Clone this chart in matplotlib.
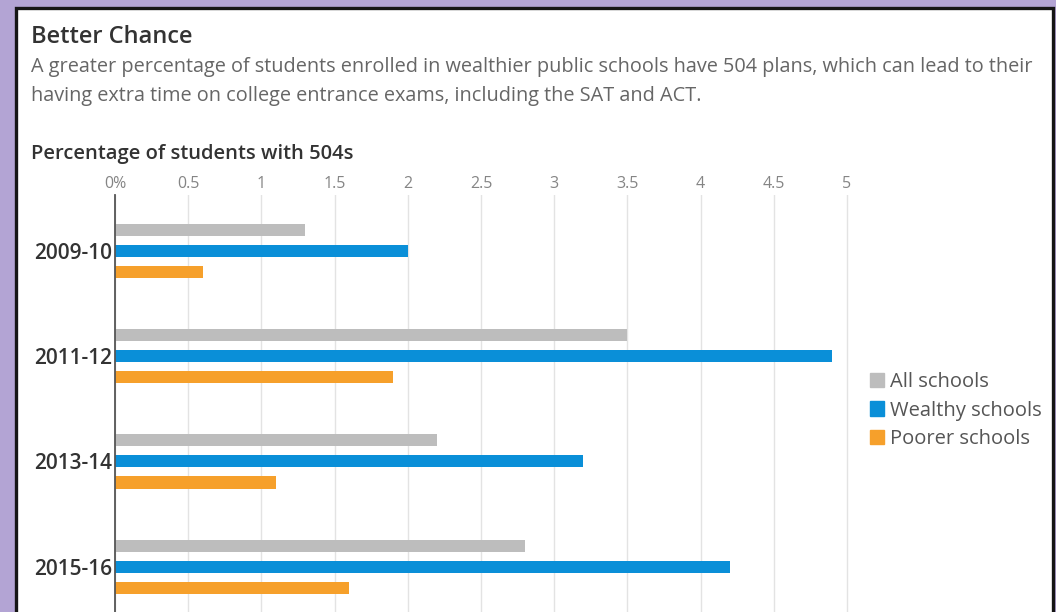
import matplotlib
matplotlib.use('Agg')
import numpy as np
import matplotlib.pyplot as plt
from matplotlib.patches import Rectangle, Patch

# percentage of students with 504 plans, by school year
years = ['2009-10', '2011-12', '2013-14', '2015-16']
all_schools = [1.3, 3.5, 2.2, 2.8]
wealthy = [2.0, 4.9, 3.2, 4.2]
poorer = [0.6, 1.9, 1.1, 1.6]
series_names = ['All schools', 'Wealthy schools', 'Poorer schools']
tick_vals = [0, 0.5, 1, 1.5, 2, 2.5, 3, 3.5, 4, 4.5, 5]
tick_labels = ['0%', '0.5', '1', '1.5', '2', '2.5', '3', '3.5', '4', '4.5', '5']

GRAY, BLUE, ORANGE = '#bdbdbd', '#0a8fd8', '#f6a02b'
FONT = 'Open Sans'

W, H = 1056, 612
fig = plt.figure(figsize=(W / 100, H / 100), dpi=100)
fig.patch.set_facecolor('#b3a4d4')

# white card with dark outline, cut off at the bottom
fig.add_artist(Rectangle((16 / W, -0.05), (1053 - 16) / W, 1 - 8 / H + 0.05,
                         transform=fig.transFigure, facecolor='white',
                         edgecolor='#151515', linewidth=2.4, zorder=0))

fig.text(31 / W, 1 - 37 / H, 'Better Chance', family=FONT, fontsize=17,
         fontweight='semibold', color='#333333', va='center', ha='left')
fig.text(31 / W, 1 - 67 / H,
         'A greater percentage of students enrolled in wealthier public schools have 504 plans, '
         'which can lead to their', family=FONT, fontsize=14.3, color='#666666',
         va='center', ha='left')
fig.text(31 / W, 1 - 96 / H,
         'having extra time on college entrance exams, including the SAT and ACT.',
         family=FONT, fontsize=14.3, color='#666666', va='center', ha='left')
fig.text(31 / W, 1 - 154 / H, 'Percentage of students with 504s', family=FONT,
         fontsize=14.5, fontweight='semibold', color='#333333', va='center', ha='left')

ax_l, ax_r, ax_t = 115, 850, 195
ax = fig.add_axes([ax_l / W, 0, (ax_r - ax_l) / W, (H - ax_t) / H])
ax.set_facecolor('none')

y = np.arange(len(years))
bh, off = 0.115, 0.2
ax.barh(y - off, all_schools, height=bh, color=GRAY, zorder=3)
ax.barh(y, wealthy, height=bh, color=BLUE, zorder=3)
ax.barh(y + off, poorer, height=bh, color=ORANGE, zorder=3)

ax.set_xlim(0, 5 * (ax_r - ax_l) / (847 - ax_l))
ax.set_ylim(3.43, -0.53)

ax.xaxis.tick_top()
ax.set_xticks(tick_vals)
ax.set_xticklabels(tick_labels, family=FONT, fontsize=11.5, color='#858585')
ax.tick_params(axis='x', length=0, pad=2)
ax.set_yticks(y)
ax.set_yticklabels(years, family=FONT, fontsize=15, fontweight='semibold', color='#333333')
ax.tick_params(axis='y', length=0, pad=2)

ax.grid(axis='x', color='#e3e3e3', linewidth=1, zorder=0)
for s in ('top', 'right', 'bottom'):
    ax.spines[s].set_visible(False)
ax.spines['left'].set_color('#555555')
ax.spines['left'].set_linewidth(1.3)
ax.spines['left'].set_zorder(4)

handles = [Patch(color=c, label=n) for c, n in zip([GRAY, BLUE, ORANGE], series_names)]
fig.legend(handles=handles, loc='upper left', bbox_to_anchor=(862 / W, 1 - 364 / H),
           frameon=False, handlelength=0.7, handleheight=0.7, handletextpad=0.3,
           labelspacing=0.42, prop={'family': FONT, 'size': 14.5}, labelcolor='#555555',
           borderaxespad=0)

fig.savefig('out.png', dpi=100, facecolor=fig.get_facecolor())
